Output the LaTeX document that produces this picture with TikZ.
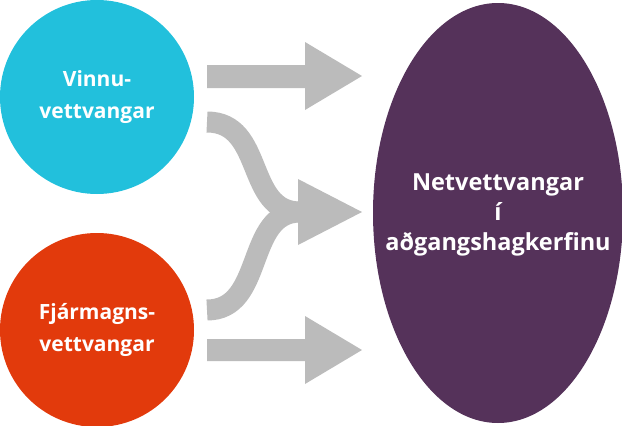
\documentclass[tikz,border=0pt]{standalone}
\usepackage{fontspec}
\setmainfont{Open Sans}
\usetikzlibrary{positioning}
\usetikzlibrary{shapes.geometric}
\definecolor{vinnu}{HTML}{22C0DC}
\definecolor{fjar}{HTML}{E23A0C}
\definecolor{net}{HTML}{55325A}
\definecolor{arr}{HTML}{BBBBBB}
\tikzset{
        every node/.style={align=center,text=white,font=\bfseries\fontsize{21}{32}\selectfont},
        pil/.style={fill=arr,draw=none},
        band/.style={draw=arr,line width=21pt},
        }
\begin{document}
\begin{tikzpicture}[x=1pt,y=-1pt]
		\useasboundingbox (0,0) rectangle (622,426);

		% markets.....................
		\node [circle,fill=vinnu,minimum size=194pt,inner sep=0] (vinnu) at (97,97) {Vinnu-\\vettvangar};
		\node [circle,fill=fjar,minimum size=194pt,inner sep=0] (fjar) at (97,330) {Fjármagns-\\vettvangar};

		% platform ellipse..............
		\fill [net] (498,213) ellipse [x radius=125, y radius=210];
		\node [font=\bfseries\fontsize{23.5}{30}\selectfont] (net) at (498,215) {Netvettvangar\\í\\aðgangshagkerfinu};

		% straight arrows...............
		\fill [pil] (207,65) -- (305,65) -- (305,42) -- (362,76) -- (305,110) -- (305,88) -- (207,88) -- cycle;
		\fill [pil] (207,339) -- (305,339) -- (305,316) -- (362,350) -- (305,384) -- (305,361) -- (207,361) -- cycle;

		% merging arrow.................
		\coordinate (meet) at (300,212);
		\draw [band] (207,122) .. controls (265,122) and (245,212) .. (meet);
		\draw [band] (207,310) .. controls (265,310) and (245,212) .. (meet);
		\fill [pil] (298,179) -- (362,212) -- (298,245) -- cycle;

	\end{tikzpicture}
\end{document}
